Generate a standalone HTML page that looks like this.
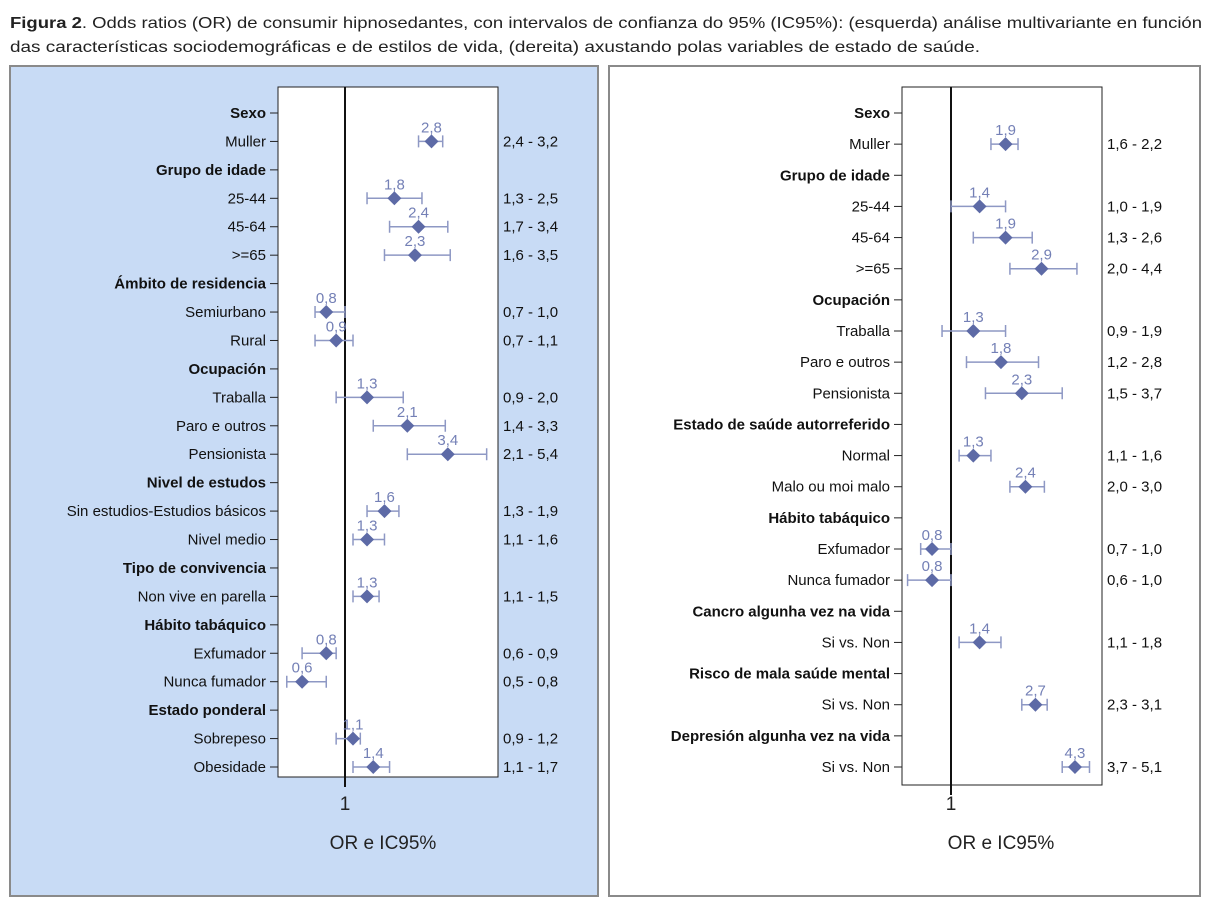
<!DOCTYPE html>
<html><head><meta charset="utf-8"><style>
body{margin:0;background:#fff;}
svg{display:block;font-family:"Liberation Sans",Arial,sans-serif;}
</style></head><body>
<svg id="fig" width="1215" height="902" xmlns="http://www.w3.org/2000/svg">
<text x="10" y="28" font-size="16" fill="#222" textLength="1192" lengthAdjust="spacingAndGlyphs"><tspan font-weight="bold">Figura 2</tspan>. Odds ratios (OR) de consumir hipnosedantes, con intervalos de confianza do 95% (IC95%): (esquerda) análise multivariante en función</text>
<text x="10" y="52" font-size="16" fill="#222" textLength="970" lengthAdjust="spacingAndGlyphs">das características sociodemográficas e de estilos de vida, (dereita) axustando polas variables de estado de saúde.</text>
<rect x="10" y="66" width="588" height="830" fill="#c8dbf5" stroke="#8a8a8a" stroke-width="2"/>
<rect x="609" y="66" width="591" height="830" fill="#fff" stroke="#8a8a8a" stroke-width="2"/>
<g id="left"></g>
<g id="right"></g>
</svg>
<script>
const leftLabels=["Sexo","Muller","Grupo de idade","25-44","45-64",">=65","Ámbito de residencia","Semiurbano","Rural","Ocupación","Traballa","Paro e outros","Pensionista","Nivel de estudos","Sin estudios-Estudios básicos","Nivel medio","Tipo de convivencia","Non vive en parella","Hábito tabáquico","Exfumador","Nunca fumador","Estado ponderal","Sobrepeso","Obesidade"];
const leftOR=[null,2.8,null,1.8,2.4,2.3,null,0.8,0.9,null,1.3,2.1,3.4,null,1.6,1.3,null,1.3,null,0.8,0.6,null,1.1,1.4];
const leftLo=[null,2.4,null,1.3,1.7,1.6,null,0.7,0.7,null,0.9,1.4,2.1,null,1.3,1.1,null,1.1,null,0.6,0.5,null,0.9,1.1];
const leftHi=[null,3.2,null,2.5,3.4,3.5,null,1.0,1.1,null,2.0,3.3,5.4,null,1.9,1.6,null,1.5,null,0.9,0.8,null,1.2,1.7];
const rightLabels=["Sexo","Muller","Grupo de idade","25-44","45-64",">=65","Ocupación","Traballa","Paro e outros","Pensionista","Estado de saúde autorreferido","Normal","Malo ou moi malo","Hábito tabáquico","Exfumador","Nunca fumador","Cancro algunha vez na vida","Si vs. Non","Risco de mala saúde mental","Si vs. Non","Depresión algunha vez na vida","Si vs. Non"];
const rightOR=[null,1.9,null,1.4,1.9,2.9,null,1.3,1.8,2.3,null,1.3,2.4,null,0.8,0.8,null,1.4,null,2.7,null,4.3];
const rightLo=[null,1.6,null,1.0,1.3,2.0,null,0.9,1.2,1.5,null,1.1,2.0,null,0.7,0.6,null,1.1,null,2.3,null,3.7];
const rightHi=[null,2.2,null,1.9,2.6,4.4,null,1.9,2.8,3.7,null,1.6,3.0,null,1.0,1.0,null,1.8,null,3.1,null,5.1];

const NS="http://www.w3.org/2000/svg";
function mk(p,tag,at,txt){const e=document.createElementNS(NS,tag);for(const k in at)e.setAttribute(k,at[k]);if(txt!=null)e.textContent=txt;p.appendChild(e);return e;}
const fmt=v=>v.toFixed(1).replace('.',',');

function draw(gid,cfg,labels,or,lo,hi){
  const g=document.getElementById(gid);
  const x=v=>cfg.x1+Math.log(v)*cfg.k;
  const y=i=>cfg.y0+i*(cfg.y1-cfg.y0)/(labels.length-1);
  const box=mk(g,'rect',{x:cfg.bx0,y:cfg.by0,width:cfg.bx1-cfg.bx0,height:cfg.by1-cfg.by0,fill:'#fff',stroke:'#222','stroke-width':1});
  
  
  const ref=mk(g,'line',{x1:x(1),x2:x(1),y1:cfg.by0,y2:cfg.by1+10,stroke:'#111','stroke-width':2});
  
  
  const t1=mk(g,'text',{x:x(1),y:810,'font-size':19,'text-anchor':'middle',fill:'#222'},'1');
  
  
  const at=mk(g,'text',{x:cfg.titleX,y:849,'font-size':19,'text-anchor':'middle',fill:'#222'},'OR e IC95%');
  
  
  labels.forEach((lab,i)=>{
    const yy=y(i);
    const header=or[i]==null;
    const tk=mk(g,'line',{x1:cfg.bx0-8,x2:cfg.bx0,y1:yy,y2:yy,stroke:'#222','stroke-width':1});
    
    
    const tl=mk(g,'text',{x:cfg.bx0-12,y:yy+5,'font-size':15,'text-anchor':'end',fill:'#111','font-weight':header?'bold':'normal'},lab);
    
    
    if(header)return;
    const xl=x(lo[i]),xh=x(hi[i]),xm=x(or[i]);
    const ci=mk(g,'path',{d:`M${xl},${yy}H${xh}M${xl},${yy-6}V${yy+6}M${xh},${yy-6}V${yy+6}`,stroke:'#8e98c4','stroke-width':1.5,fill:'none'});
    
    
    const d=mk(g,'path',{d:`M${xm},${yy-7}L${xm+7},${yy}L${xm},${yy+7}L${xm-7},${yy}Z`,fill:'#5d6aa6'});
    
    
    const vl=mk(g,'text',{x:xm,y:yy-9,'font-size':15,'text-anchor':'middle',fill:'#7480b6'},fmt(or[i]));
    
    
    const cl=mk(g,'text',{x:cfg.bx1+5,y:yy+5,'font-size':15,fill:'#111'},fmt(lo[i])+' - '+fmt(hi[i]));
    
    
  });
}
draw('left',{bx0:278,bx1:498,by0:87,by1:777,x1:345,k:84,y0:113,y1:767,titleX:383},leftLabels,leftOR,leftLo,leftHi);
draw('right',{bx0:902,bx1:1102,by0:87,by1:785,x1:951,k:85,y0:113,y1:767,titleX:1001},rightLabels,rightOR,rightLo,rightHi);
</script>
</body></html>
